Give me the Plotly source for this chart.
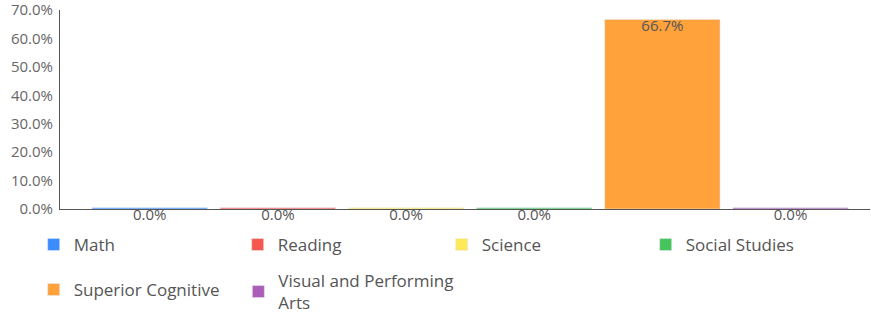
import plotly.graph_objects as go

categories = ["Math", "Reading", "Science", "Social Studies", "Superior Cognitive", "Visual and Performing Arts"]
legend_names = ["Math", "Reading", "Science", "Social Studies", "Superior Cognitive", "Visual and Performing<br>Arts"]
values = [0.0, 0.0, 0.0, 0.0, 0.667, 0.0]
colors = ["#3b8cfd", "#f4584e", "#fee858", "#46c35b", "#ffa23c", "#ab5db7"]
y_ticks = [0, 0.1, 0.2, 0.3, 0.4, 0.5, 0.6, 0.7]
legend_of = ["legend", "legend", "legend", "legend", "legend2", "legend3"]

MIN_VISIBLE = 0.004  # so that zero bars show as a thin coloured line

FONT = "Open Sans"
TXT = "#555555"

fig = go.Figure()
for i, (cat, name, v, c, lg) in enumerate(zip(categories, legend_names, values, colors, legend_of)):
    fig.add_trace(go.Bar(
        x=[i], y=[max(v, MIN_VISIBLE)], name=name, marker_color=c,
        width=0.9, legend=lg,
        hovertemplate=f"{cat}: {v:.1%}<extra></extra>",
    ))

fig.add_trace(go.Scatter(
    x=list(range(len(values))), y=values, mode="text",
    text=[f"{v:.1%}" for v in values],
    textposition="bottom center", cliponaxis=False,
    textfont=dict(color=TXT, size=15, family=FONT),
    showlegend=False, hoverinfo="skip",
))

leg_common = dict(
    orientation="h", xanchor="left", yanchor="top",
    font=dict(size=17, color=TXT, family=FONT), itemclick=False,
    traceorder="normal", bgcolor="rgba(0,0,0,0)",
)

fig.update_layout(
    width=871, height=314,
    margin=dict(l=60, r=1, t=10, b=105, autoexpand=False),
    plot_bgcolor="white", paper_bgcolor="white",
    barmode="overlay",
    font=dict(family=FONT, color=TXT),
    showlegend=True,
    legend=dict(leg_common, x=-0.0325, y=-0.0905, entrywidth=159, entrywidthmode="pixels"),
    legend2=dict(leg_common, x=-0.0325, y=-0.3166),
    legend3=dict(leg_common, x=0.2202, y=-0.2714),
    xaxis=dict(
        range=[-0.70, 5.62], showticklabels=False, showgrid=False, zeroline=False,
        showline=True, linecolor=TXT, linewidth=1, layer="below traces",
        fixedrange=True, automargin=False,
    ),
    yaxis=dict(
        range=[0, 0.7], tickvals=y_ticks, tickformat=".1%", showgrid=False,
        zeroline=False, showline=True, linecolor=TXT, linewidth=1,
        tickfont=dict(size=15, color="#666666"), ticklabelstandoff=3,
        ticklabeloverflow="allow",
        layer="below traces", fixedrange=True, automargin=False,
    ),
)

fig.write_html("out.html", config={"displayModeBar": False},
               post_script="document.body.style.margin='0';")
